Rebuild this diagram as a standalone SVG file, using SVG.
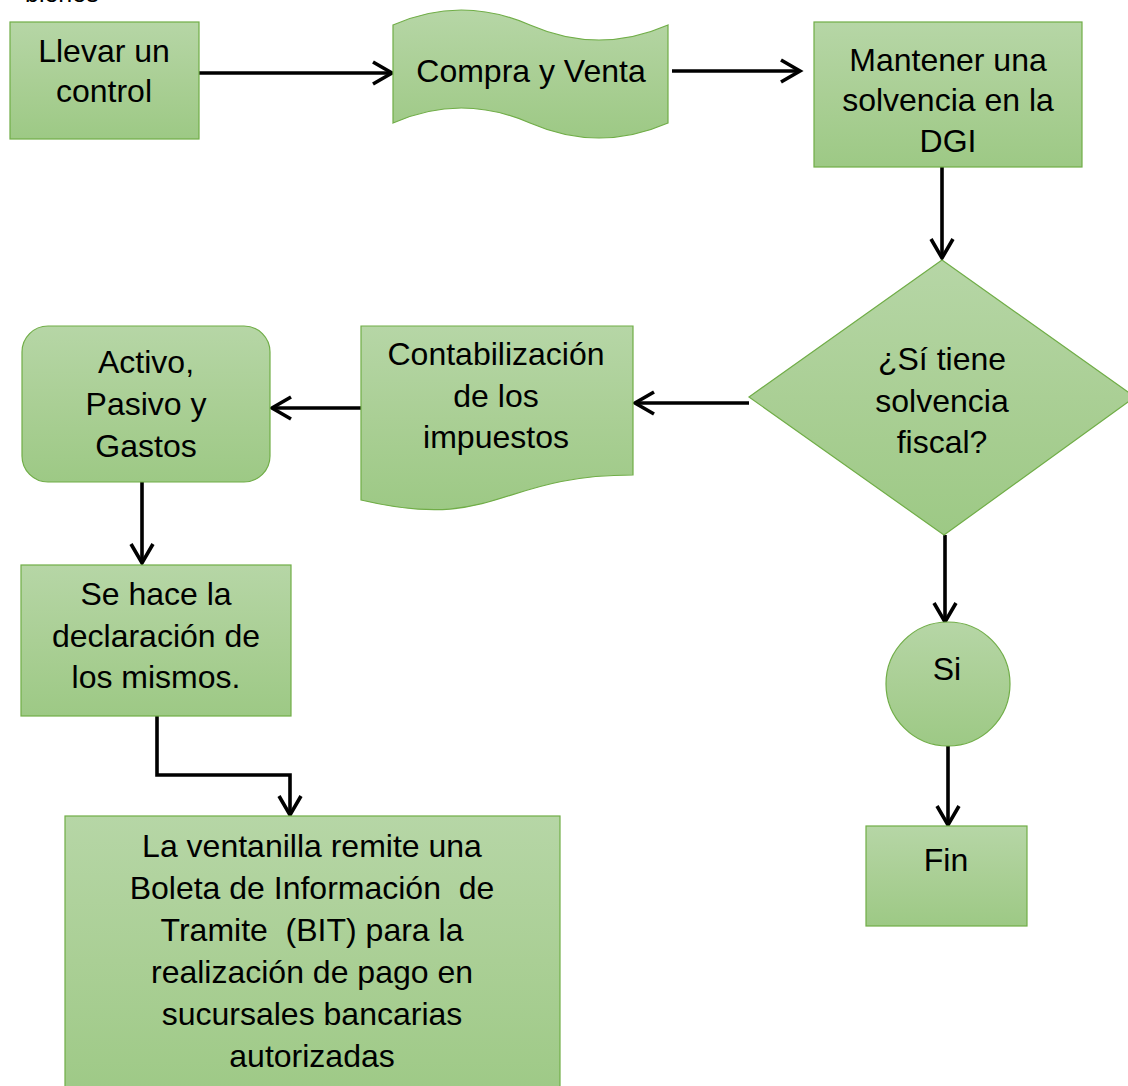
<svg xmlns="http://www.w3.org/2000/svg" width="1128" height="1086" viewBox="0 0 1128 1086">
<defs>
<linearGradient id="g" x1="0" y1="0" x2="0" y2="1">
<stop offset="0" stop-color="#b6d6a6"/>
<stop offset="0.5" stop-color="#aacf95"/>
<stop offset="1" stop-color="#9dc985"/>
</linearGradient>
<marker id="arr" viewBox="0 0 26 26" markerWidth="26" markerHeight="26" refX="22" refY="13" orient="auto" markerUnits="userSpaceOnUse">
<path d="M3,2 L22,13 L3,24" fill="none" stroke="#000" stroke-width="3.6"/>
</marker>
<style>
.n{fill:url(#g);stroke:#70ad47;stroke-width:1.2}
.t{font-family:"Liberation Sans",Arial,sans-serif;font-size:32px;fill:#000;text-anchor:middle}
.p{white-space:pre}
.c{fill:none;stroke:#000;stroke-width:3.6;marker-end:url(#arr)}
</style>
</defs>
<rect width="1128" height="1086" fill="#fff"/>
<text x="25" y="2" style="font-family:'Liberation Sans',Arial,sans-serif;font-size:25px">bienes</text>
<g id="connectors">
<path class="c" d="M199,73 H392"/>
<path class="c" d="M672,71 H800"/>
<path class="c" d="M942,167 V258"/>
<path class="c" d="M749,403 H635"/>
<path class="c" d="M361,408 H272"/>
<path class="c" d="M142,482 V563"/>
<path class="c" d="M157,716 V775 H290 V815"/>
<path class="c" d="M945,535 V622"/>
<path class="c" d="M948,746 V825"/>
</g>
<g id="n1">
<rect class="n" x="10" y="22" width="189" height="117"/>
<text class="t" x="104" y="62">Llevar un</text>
<text class="t" x="104" y="102">control</text>
</g>
<g id="n2">
<path class="n" d="M393,25 Q461,-5 530,25 Q599,55 668,25 V123 Q599,153 530,123 Q461,93 393,123 Z"/>
<text class="t" x="531" y="82">Compra y Venta</text>
</g>
<g id="n3">
<rect class="n" x="814" y="22" width="268" height="145"/>
<text class="t" x="948" y="71">Mantener una</text>
<text class="t" x="948" y="111">solvencia en la</text>
<text class="t" x="948" y="152">DGI</text>
</g>
<g id="n4">
<polygon class="n" points="942,260 1135,397 944,535 749,397"/>
<text class="t" x="942" y="370">¿Sí tiene</text>
<text class="t" x="942" y="412">solvencia</text>
<text class="t" x="942" y="453">fiscal?</text>
</g>
<g id="n5">
<path class="n" d="M361,326 H633 V475 C497,475 497,532 361,500 Z"/>
<text class="t" x="496" y="365">Contabilización</text>
<text class="t" x="496" y="407">de los</text>
<text class="t" x="496" y="448">impuestos</text>
</g>
<g id="n6">
<rect class="n" x="22" y="326" width="248" height="156" rx="26" ry="26"/>
<text class="t" x="146" y="373">Activo,</text>
<text class="t" x="146" y="415">Pasivo y</text>
<text class="t" x="146" y="457">Gastos</text>
</g>
<g id="n7">
<rect class="n" x="21" y="565" width="270" height="151"/>
<text class="t" x="156" y="605">Se hace la</text>
<text class="t" x="156" y="647">declaración de</text>
<text class="t" x="156" y="688">los mismos.</text>
</g>
<g id="n8">
<rect class="n" x="65" y="816" width="495" height="290"/>
<text class="t" x="312" y="857">La ventanilla remite una</text>
<text class="t p" x="312" y="899">Boleta de Información  de</text>
<text class="t p" x="312" y="941">Tramite  (BIT) para la</text>
<text class="t" x="312" y="983">realización de pago en</text>
<text class="t" x="312" y="1025">sucursales bancarias</text>
<text class="t" x="312" y="1067">autorizadas</text>
</g>
<g id="n9">
<circle class="n" cx="948" cy="684" r="62"/>
<text class="t" x="947" y="680">Si</text>
</g>
<g id="n10">
<rect class="n" x="866" y="826" width="161" height="100"/>
<text class="t" x="946" y="871">Fin</text>
</g>
</svg>
